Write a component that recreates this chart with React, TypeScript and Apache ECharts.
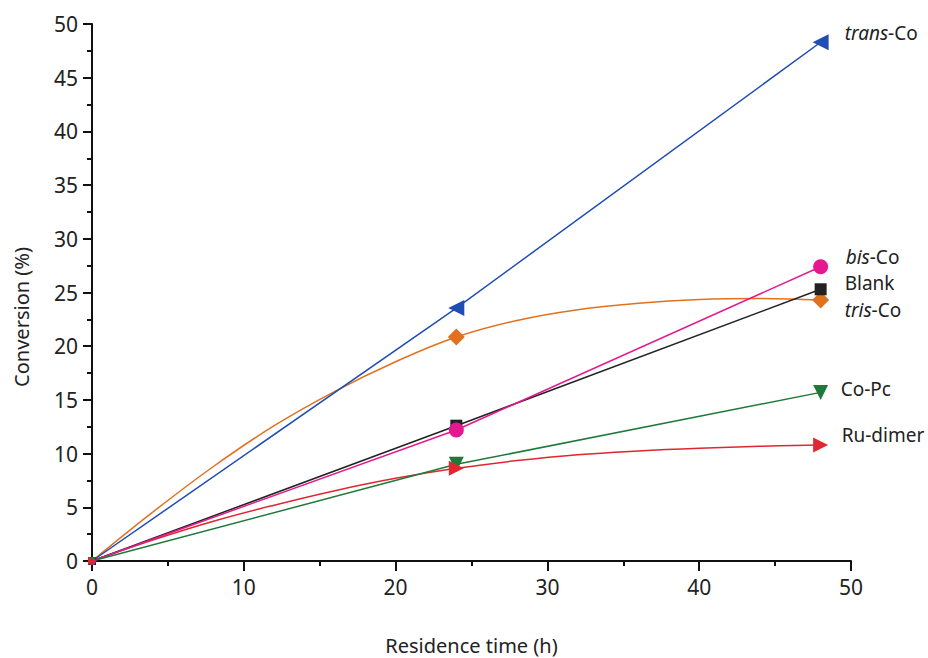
import React, { useEffect, useRef } from "react";
import * as echarts from "echarts";

const times = [0, 24, 48];
const transCo = [0, 23.55, 48.3];
const bisCo = [0, 12.2, 27.4];
const blank = [0, 12.6, 25.3];
const trisCo = [0, 20.85, 24.3];
const coPc = [0, 9.0, 15.7];
const ruDimer = [0, 8.63, 10.8];

// fitted curves
const curveTimes = [0, 4, 8, 12, 16, 20, 24, 28, 32, 36, 40, 44, 48];
const trisCoCurve = [0, 4.55, 8.8, 12.6, 15.8, 18.55, 20.85, 22.4, 23.4, 24.0, 24.35, 24.45, 24.3];
const ruDimerCurve = [0, 1.95, 3.7, 5.2, 6.55, 7.7, 8.63, 9.35, 9.9, 10.25, 10.5, 10.68, 10.8];

const xTicks = [0, 10, 20, 30, 40, 50];

const FONT = "'Noto Sans', 'DejaVu Sans', sans-serif";

function pairs(xs: number[], ys: number[]) {
  return xs.map((x, i) => [x, ys[i]]);
}

type Spec = {
  name: string;
  values: number[];
  color: string;
  symbol: string;
  rotate: number;
  size: number;
  label: string;
  dx: number;
  dy: number;
  line: boolean;
};

const specs: Spec[] = [
  { name: "trans-Co", values: transCo, color: "#1f4db3", symbol: "triangle", rotate: 90, size: 16, label: "{i|trans}{n|-Co}", dx: 24, dy: -9, line: true },
  { name: "tris-Co", values: trisCo, color: "#e2711f", symbol: "diamond", rotate: 0, size: 17, label: "{i|tris}{n|-Co}", dx: 24, dy: 10, line: false },
  { name: "Blank", values: blank, color: "#222222", symbol: "rect", rotate: 0, size: 12, label: "{n|Blank}", dx: 24, dy: -6, line: true },
  { name: "bis-Co", values: bisCo, color: "#e5188f", symbol: "circle", rotate: 0, size: 15, label: "{i|bis}{n|-Co}", dx: 25, dy: -10, line: true },
  { name: "Co-Pc", values: coPc, color: "#1f7a3a", symbol: "triangle", rotate: 180, size: 15, label: "{n|Co-Pc}", dx: 20, dy: -3, line: true },
  { name: "Ru-dimer", values: ruDimer, color: "#e0262e", symbol: "triangle", rotate: -90, size: 15, label: "{n|Ru-dimer}", dx: 21, dy: -10, line: false },
];

export default function App() {
  const ref = useRef<HTMLDivElement>(null);
  useEffect(() => {
    if (!ref.current) return;
    const chart = echarts.init(ref.current, null, { renderer: "svg", width: 928, height: 658 });
    const series: any[] = [];
    specs.forEach((s) => {
      const curve = s.name === "tris-Co" ? trisCoCurve : s.name === "Ru-dimer" ? ruDimerCurve : null;
      if (curve) {
        series.push({
          type: "line",
          name: s.name + " fit",
          data: pairs(curveTimes, curve),
          smooth: 0.4,
          showSymbol: false,
          lineStyle: { color: s.color, width: 1.5 },
          z: 2,
        });
      }
      const data = pairs(times, s.values).map((p, i) => ({
        value: p,
        symbolSize: i === 0 ? 8 : s.size,
        label:
          i === times.length - 1
            ? {
                show: true,
                position: "right",
                distance: s.dx - s.size / 2,
                offset: [0, s.dy],
                formatter: s.label,
                rich: {
                  i: { fontStyle: "italic", fontSize: 19, fontFamily: FONT, color: "#222" },
                  n: { fontSize: 19, fontFamily: FONT, color: "#222" },
                },
              }
            : { show: false },
      }));
      if (s.line) {
        series.push({
          type: "line",
          name: s.name,
          data,
          symbol: s.symbol,
          symbolRotate: s.rotate,
          symbolSize: s.size,
          showAllSymbol: true,
          lineStyle: { color: s.color, width: 1.5 },
          itemStyle: { color: s.color },
          z: 3,
        });
      } else {
        series.push({
          type: "scatter",
          name: s.name,
          data,
          symbol: s.symbol,
          symbolRotate: s.rotate,
          symbolSize: s.size,
          itemStyle: { color: s.color, opacity: 1 },
          z: 3,
        });
      }
    });

    chart.setOption({
      animation: false,
      backgroundColor: "#ffffff",
      grid: { left: 92, right: 77, top: 24, bottom: 97, containLabel: false, outerBoundsMode: "none" },
      xAxis: {
        type: "value",
        min: 0,
        max: 50,
        interval: 10,
        name: "Residence time (h)",
        nameLocation: "middle",
        nameGap: 74,
        nameTextStyle: { fontSize: 20, fontFamily: FONT, color: "#222" },
        axisLine: { show: true, onZero: false, lineStyle: { color: "#111", width: 2 } },
        axisTick: { show: true, length: 10, inside: false, lineStyle: { color: "#111", width: 2 } },
        minorTick: { show: true, splitNumber: 2, length: 5, lineStyle: { color: "#111", width: 2 } },
        splitLine: { show: false },
        minorSplitLine: { show: false },
        axisLabel: {
          margin: 15,
          fontSize: 21,
          fontFamily: FONT,
          color: "#222",
          customValues: xTicks,
        },
      },
      yAxis: {
        type: "value",
        min: 0,
        max: 50,
        interval: 5,
        axisLine: { show: true, onZero: false, lineStyle: { color: "#111", width: 2 } },
        axisTick: { show: true, length: 9, inside: false, lineStyle: { color: "#111", width: 2 } },
        minorTick: { show: true, splitNumber: 2, length: 5, lineStyle: { color: "#111", width: 2 } },
        splitLine: { show: false },
        minorSplitLine: { show: false },
        axisLabel: { margin: 14, fontSize: 21, fontFamily: FONT, color: "#222" },
      },
      graphic: [
        {
          type: "text",
          x: 21,
          y: 317,
          rotation: Math.PI / 2,
          style: {
            text: "Conversion (%)",
            fontSize: 20,
            fontFamily: FONT,
            fill: "#222",
            align: "center",
            verticalAlign: "middle",
          },
        },
      ],
      series,
    });
    return () => chart.dispose();
  }, []);
  return (
    <div
      ref={ref}
      style={{ position: "fixed", left: 0, top: 0, width: 928, height: 658 }}
    />
  );
}
